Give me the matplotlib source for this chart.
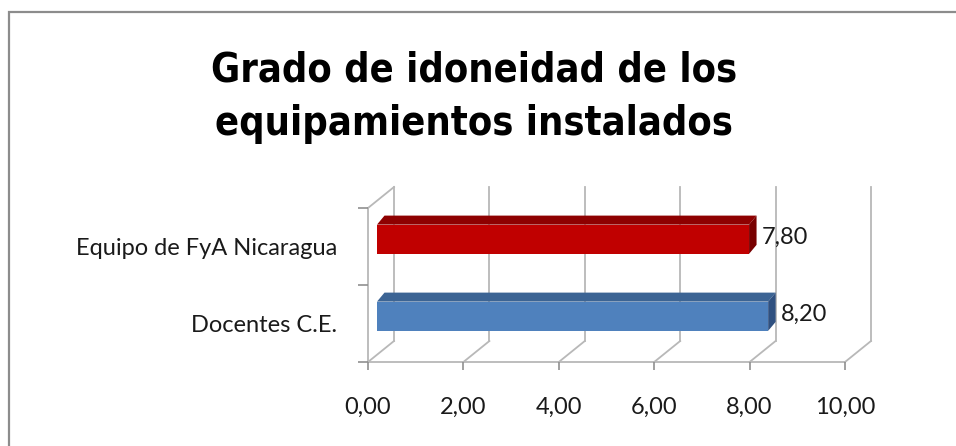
import matplotlib
matplotlib.use('Agg')
import matplotlib.pyplot as plt
from matplotlib import font_manager
from matplotlib.patches import Polygon, Rectangle
from matplotlib.ticker import FuncFormatter

categories = ['Docentes C.E.', 'Equipo de FyA Nicaragua']
values = [8.20, 7.80]
front_colors = ['#4F81BD', '#C00000']
top_colors = ['#3C6494', '#8E0000']
side_colors = ['#2F5080', '#780000']
x_ticks = [0, 2, 4, 6, 8, 10]
title_lines = ['Grado de idoneidad de los', 'equipamientos instalados']


def pick_font(names):
    for n in names:
        try:
            font_manager.findfont(n, fallback_to_default=False)
            return n
        except Exception:
            pass
    return 'DejaVu Sans'


# narrow bold face for the title
title_prop = None
for f in font_manager.fontManager.ttflist:
    fn = f.fname.lower()
    if ('narrow' in fn or 'condensed' in fn) and 'bold' in fn and 'oblique' not in fn and 'italic' not in fn:
        title_prop = font_manager.FontProperties(fname=f.fname, size=28.5)
        break
if title_prop is None:
    title_prop = font_manager.FontProperties(family=pick_font(['Roboto', 'DejaVu Sans']),
                                             weight='bold', size=25)

label_font = pick_font(['Lato', 'Open Sans', 'DejaVu Sans'])

W, H = 956, 446
fig = plt.figure(figsize=(W / 100, H / 100), dpi=100)
fig.patch.set_facecolor('white')

# outer chart border (left and top visible)
fig.add_artist(Rectangle((9 / W, -0.2), 1.2, 1.2 - 12 / H,
                         transform=fig.transFigure, fill=False,
                         edgecolor='#8c8c8c', lw=1.6))

for line, base in zip(title_lines, [82, 135]):
    fig.text(474 / W, 1 - base / H, line, ha='center', va='baseline',
             fontproperties=title_prop)

# front plane of the 3D box
x0, x1, ytop, ybot = 368, 845, 208, 362
ax = fig.add_axes([x0 / W, 1 - ybot / H, (x1 - x0) / W, (ybot - ytop) / H])
ax.set_xlim(0, 10)
ax.set_ylim(-0.5, 1.5)
for s in ax.spines.values():
    s.set_visible(False)
ax.patch.set_visible(False)

px_x = (x1 - x0) / 10.0
px_y = (ybot - ytop) / 2.0
DX = 26 / px_x
DY = 21 / px_y
gc = '#b8b8b8'
glw = 1.3

# walls and gridlines
ax.plot([0, 10], [-0.5, -0.5], color=gc, lw=glw, clip_on=False, zorder=1)
ax.plot([0, 0], [-0.5, 1.5], color=gc, lw=glw, clip_on=False, zorder=1)
ax.plot([0, DX], [1.5, 1.5 + DY], color=gc, lw=glw, clip_on=False, zorder=1)
for t in x_ticks:
    ax.plot([t, t + DX], [-0.5, -0.5 + DY], color=gc, lw=glw, clip_on=False, zorder=1)
    ax.plot([t + DX, t + DX], [-0.5 + DY, 1.5 + DY], color=gc, lw=glw,
            clip_on=False, zorder=1)

# 3D bars
f0 = 9 / 26
bx = f0 * DX
by = f0 * DY
bdx = 7.5 / px_x
bdy = 9 / px_y
h = 0.38
for i, v in enumerate(values):
    yc = i + by
    yb, yt = yc - h / 2, yc + h / 2
    ax.add_patch(Rectangle((bx, yb), v, h, facecolor=front_colors[i],
                           edgecolor='none', zorder=3, clip_on=False))
    ax.add_patch(Polygon([(bx, yt), (bx + v, yt), (bx + v + bdx, yt + bdy),
                          (bx + bdx, yt + bdy)], closed=True,
                         facecolor=top_colors[i], edgecolor='none', zorder=3,
                         clip_on=False))
    ax.add_patch(Polygon([(bx + v, yb), (bx + v, yt), (bx + v + bdx, yt + bdy),
                          (bx + v + bdx, yb + bdy)], closed=True,
                         facecolor=side_colors[i], edgecolor='none', zorder=3,
                         clip_on=False))
    ax.annotate(f'{v:.2f}'.replace('.', ','), (bx + v + bdx, yc),
                xytext=(4, 1), textcoords='offset points', va='center',
                ha='left', fontsize=17, family=label_font, color='#1a1a1a')

# ticks
ax.set_xticks(x_ticks)
ax.xaxis.set_major_formatter(FuncFormatter(lambda x, p: f'{x:.2f}'.replace('.', ',')))
ax.tick_params(axis='x', direction='out', length=6, width=1.2, color='#909090',
               pad=19, labelsize=17, labelcolor='#1a1a1a')
ax.set_yticks([-0.5, 0.5, 1.5])
ax.set_yticklabels([])
ax.set_yticks([0, 1], minor=True)
ax.set_yticklabels(categories, minor=True)
ax.tick_params(axis='y', which='major', direction='out', length=7, width=1.2,
               color='#909090')
ax.tick_params(axis='y', which='minor', length=0, pad=22, labelsize=17,
               labelcolor='#1a1a1a')
for lab in ax.get_xticklabels() + ax.get_yticklabels(minor=True):
    lab.set_family(label_font)

fig.savefig('out.png', dpi=100, facecolor='white')
